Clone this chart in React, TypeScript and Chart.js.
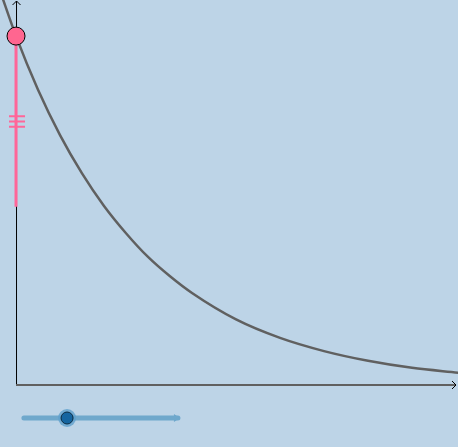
import { useEffect, useRef } from 'react';
import { Chart, registerables } from 'chart.js';

Chart.register(...registerables);

// curve (x in axis units, 44px per unit)
const curveX = [-0.36, 0, 0.5, 1, 1.5, 2, 2.5, 3, 3.5, 4, 5, 6, 7, 8, 9, 10.05];
const curveY = [8.95, 7.93, 6.71, 5.68, 4.81, 4.07, 3.45, 2.91, 2.47, 2.09, 1.49, 1.07, 0.77, 0.55, 0.39, 0.28];

// pink segment on the y axis
const segmentTop = 7.93;
const segmentBottom = 4.05;

// slider
const sliderMin = 0.18;
const sliderMax = 3.68;
const sliderValue = 1.16;
const sliderLevel = -0.75;

const xMin = -0.364;
const xMax = 10.045;
const yMin = -1.409;
const yMax = 8.75;

const BG = '#bdd4e7';

const arrowsPlugin = {
  id: 'geoAxes',
  beforeDatasetsDraw(chart: any) {
    const { ctx, scales } = chart;
    const x0 = scales.x.getPixelForValue(0);
    const y0 = scales.y.getPixelForValue(0);
    const top = scales.y.getPixelForValue(yMax);
    const right = scales.x.getPixelForValue(xMax);
    ctx.save();
    // y axis
    ctx.strokeStyle = '#000';
    ctx.lineWidth = 1;
    ctx.beginPath();
    ctx.moveTo(x0 + 0.5, y0);
    ctx.lineTo(x0 + 0.5, top + 1);
    ctx.moveTo(x0 - 3.5, top + 5);
    ctx.lineTo(x0 + 0.5, top + 1);
    ctx.lineTo(x0 + 4.5, top + 5);
    ctx.stroke();
    // x axis
    ctx.strokeStyle = '#606060';
    ctx.lineWidth = 2;
    ctx.beginPath();
    ctx.moveTo(x0, y0);
    ctx.lineTo(right - 2, y0);
    ctx.stroke();
    ctx.strokeStyle = '#000';
    ctx.lineWidth = 1;
    ctx.beginPath();
    ctx.moveTo(right - 6, y0 - 4);
    ctx.lineTo(right - 2, y0);
    ctx.lineTo(right - 6, y0 + 4);
    ctx.stroke();
    ctx.restore();
  },
  afterDatasetsDraw(chart: any) {
    const { ctx, scales } = chart;
    const x0 = scales.x.getPixelForValue(0);
    const mid = (scales.y.getPixelForValue(segmentTop) + scales.y.getPixelForValue(segmentBottom)) / 2;
    ctx.save();
    // congruence ticks
    ctx.strokeStyle = '#ff6699';
    ctx.lineWidth = 2;
    ctx.beginPath();
    [-5.3, 0, 5.3].forEach((d) => {
      ctx.moveTo(x0 - 7, mid + d);
      ctx.lineTo(x0 + 9, mid + d);
    });
    ctx.stroke();
    // slider arrow tip
    const sx = scales.x.getPixelForValue(sliderMax);
    const sy = scales.y.getPixelForValue(sliderLevel);
    ctx.fillStyle = '#6fa8cc';
    ctx.beginPath();
    ctx.moveTo(sx - 4, sy - 4);
    ctx.lineTo(sx + 2, sy);
    ctx.lineTo(sx - 4, sy + 4);
    ctx.closePath();
    ctx.fill();
    ctx.restore();
  },
};

const App = () => {
  const chartRef = useRef<HTMLCanvasElement | null>(null);
  const chartInstanceRef = useRef<Chart | null>(null);

  useEffect(() => {
    const ctx = chartRef.current?.getContext('2d');
    if (!ctx) return;

    if (chartInstanceRef.current) {
      chartInstanceRef.current.destroy();
    }

    chartInstanceRef.current = new Chart(ctx, {
      type: 'scatter',
      data: {
        datasets: [
          {
            data: [
              { x: sliderMin, y: sliderLevel },
              { x: sliderMax, y: sliderLevel },
            ],
            showLine: true,
            borderColor: '#6fa8cc',
            borderWidth: 5,
            borderCapStyle: 'round',
            pointRadius: 0,
            order: 5,
          },
          {
            data: [{ x: sliderValue, y: sliderLevel }],
            pointRadius: 9,
            backgroundColor: 'rgba(95,160,205,0.8)',
            borderWidth: 0,
            order: 4,
          },
          {
            data: [{ x: sliderValue, y: sliderLevel }],
            pointRadius: 6,
            backgroundColor: '#1565a0',
            borderColor: '#0a2a40',
            borderWidth: 1,
            order: 3,
          },
          {
            data: curveX.map((x, i) => ({ x, y: curveY[i] })),
            showLine: true,
            borderColor: '#606060',
            borderWidth: 2.5,
            pointRadius: 0,
            cubicInterpolationMode: 'monotone',
            order: 2,
          },
          {
            data: [
              { x: 0, y: segmentTop },
              { x: 0, y: segmentBottom },
            ],
            showLine: true,
            borderColor: '#ff6699',
            borderWidth: 3,
            pointRadius: 0,
            order: 1,
          },
          {
            data: [{ x: 0, y: segmentTop }],
            pointRadius: 9,
            backgroundColor: '#ff6690',
            borderColor: '#000',
            borderWidth: 1,
            order: 0,
          },
        ],
      },
      options: {
        animation: false,
        responsive: true,
        maintainAspectRatio: false,
        layout: { padding: 0, autoPadding: false },
        plugins: {
          legend: { display: false },
          tooltip: { enabled: false },
        },
        scales: {
          x: { type: 'linear', min: xMin, max: xMax, display: false },
          y: { type: 'linear', min: yMin, max: yMax, display: false },
        },
      },
      plugins: [arrowsPlugin],
    });

    return () => {
      if (chartInstanceRef.current) {
        chartInstanceRef.current.destroy();
      }
    };
  }, []);

  return (
    <div style={{ position: 'fixed', left: 0, top: 0, width: 458, height: 447, background: BG }}>
      <canvas ref={chartRef} style={{ width: '100%', height: '100%' }}></canvas>
    </div>
  );
};

export default App;
